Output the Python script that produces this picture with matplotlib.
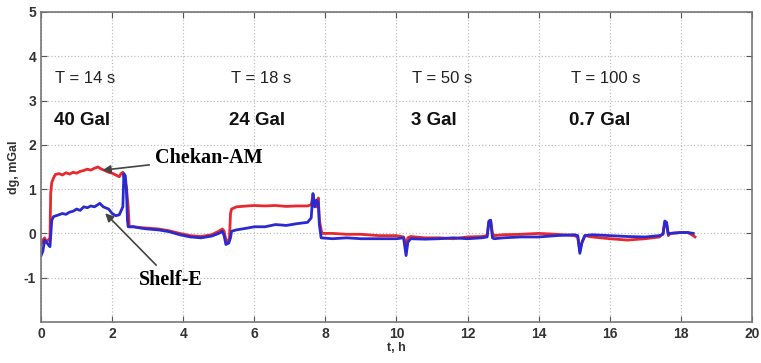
import matplotlib
matplotlib.use("Agg")
import matplotlib.pyplot as plt

plt.rcParams['font.family'] = ['Liberation Sans', 'DejaVu Sans']
plt.rcParams['axes.unicode_minus'] = False

# Chekan-AM (red) record
t_red = [0.0, 0.05, 0.1, 0.15, 0.2, 0.25, 0.27, 0.3, 0.35, 0.4, 0.5, 0.6, 0.7, 0.8, 0.9,
         1.0, 1.1, 1.2, 1.3, 1.4, 1.5, 1.6, 1.7, 1.8, 1.9, 2.0, 2.1, 2.2, 2.25, 2.3,
         2.35, 2.4, 2.45, 2.48, 2.6, 2.8, 3.0, 3.3, 3.6, 3.9, 4.2, 4.5, 4.8, 5.0, 5.1,
         5.15, 5.2, 5.25, 5.3, 5.33, 5.36, 5.5, 5.8, 6.0, 6.3, 6.6, 6.9, 7.2, 7.5, 7.6,
         7.65, 7.7, 7.75, 7.8, 7.83, 7.9, 8.2, 8.6, 9.0, 9.5, 10.0, 10.2, 10.27, 10.32,
         10.4, 10.8, 11.2, 11.6, 12.0, 12.4, 12.55, 12.6, 12.65, 12.7, 12.75, 13.0, 13.5,
         14.0, 14.5, 15.0, 15.1, 15.16, 15.2, 15.3, 15.5, 16.0, 16.5, 17.0, 17.4, 17.5,
         17.55, 17.6, 17.65, 17.7, 18.0, 18.2, 18.35, 18.4]
dg_red = [-0.25, -0.15, -0.1, -0.2, -0.15, -0.1, 0.9, 1.15, 1.25, 1.33, 1.35, 1.32, 1.37, 1.34, 1.38,
          1.36, 1.4, 1.42, 1.45, 1.43, 1.47, 1.5, 1.45, 1.42, 1.38, 1.36, 1.32, 1.28, 1.35, 1.38,
          1.2, 1.05, 0.6, 0.15, 0.15, 0.13, 0.12, 0.1, 0.06, 0.0, -0.05, -0.07, -0.03, 0.05, 0.1,
          0.05, -0.15, -0.2, -0.1, 0.45, 0.55, 0.6, 0.62, 0.63, 0.62, 0.63, 0.61, 0.62, 0.62, 0.65,
          0.85, 0.7, 0.6, 0.8, 0.3, 0.0, 0.0, -0.02, -0.02, -0.05, -0.05, -0.08, -0.25, -0.1,
          -0.07, -0.1, -0.1, -0.12, -0.08, -0.07, -0.05, 0.25, 0.28, 0.0, -0.05, -0.03, -0.02,
          0.0, -0.02, -0.05, -0.08, -0.4, -0.25, -0.05, -0.08, -0.12, -0.15, -0.12, -0.08, 0.0,
          0.25, 0.2, -0.05, 0.0, 0.02, 0.02, -0.05, -0.08]

# Shelf-E (blue) record
t_blue = [0.0, 0.05, 0.1, 0.15, 0.2, 0.25, 0.3, 0.35, 0.5, 0.6, 0.7, 0.8, 0.9, 1.0, 1.1,
          1.2, 1.3, 1.4, 1.5, 1.6, 1.65, 1.75, 1.9, 2.0, 2.1, 2.2, 2.3, 2.33, 2.37, 2.4,
          2.43, 2.45, 2.6, 2.8, 3.0, 3.3, 3.6, 3.9, 4.2, 4.5, 4.8, 5.0, 5.1, 5.15, 5.2,
          5.28, 5.33, 5.36, 5.5, 5.8, 6.0, 6.3, 6.6, 6.9, 7.2, 7.5, 7.6, 7.65, 7.7, 7.75,
          7.8, 7.83, 7.88, 8.2, 8.6, 9.0, 9.5, 10.0, 10.2, 10.27, 10.32, 10.4, 10.8, 11.2,
          11.6, 12.0, 12.4, 12.55, 12.6, 12.65, 12.7, 12.75, 13.0, 13.5, 14.0, 14.5, 15.0,
          15.1, 15.16, 15.22, 15.3, 15.5, 16.0, 16.5, 17.0, 17.4, 17.5, 17.55, 17.6, 17.65,
          17.7, 18.0, 18.2, 18.35]
dg_blue = [-0.5, -0.4, -0.15, -0.2, -0.25, -0.3, 0.3, 0.38, 0.42, 0.45, 0.43, 0.48, 0.5, 0.55, 0.52,
           0.6, 0.58, 0.62, 0.6, 0.65, 0.68, 0.6, 0.55, 0.45, 0.4, 0.42, 0.6, 1.35, 1.3, 1.0,
           0.3, 0.15, 0.15, 0.12, 0.1, 0.08, 0.04, -0.03, -0.08, -0.1, -0.06, 0.0, 0.05, -0.05, -0.25,
           -0.22, -0.1, 0.05, 0.08, 0.12, 0.15, 0.15, 0.2, 0.18, 0.22, 0.25, 0.35, 0.9, 0.6, 0.75,
           0.7, 0.2, -0.1, -0.12, -0.1, -0.12, -0.12, -0.12, -0.1, -0.5, -0.2, -0.12, -0.13, -0.12,
           -0.1, -0.12, -0.1, -0.08, 0.28, 0.3, -0.1, -0.12, -0.1, -0.08, -0.08, -0.05, -0.03,
           -0.05, -0.45, -0.2, -0.05, -0.03, -0.05, -0.07, -0.08, -0.05, -0.02, 0.28, 0.25, -0.02,
           0.0, 0.02, 0.02, 0.0]

period_labels = ["T = 14 s", "T = 18 s", "T = 50 s", "T = 100 s"]
amp_labels = ["40 Gal", "24 Gal", "3 Gal", "0.7 Gal"]
label_x = [0.4, 5.35, 10.45, 14.9]

fig = plt.figure(figsize=(7.61, 3.63), dpi=100)
ax = fig.add_axes([0.054, 0.113, 0.934, 0.854])

ax.plot(t_red, dg_red, color='#e8282c', lw=2.0)
ax.plot(t_blue, dg_blue, color='#2a2ad0', lw=2.0)

ax.set_xlim(0, 20)
ax.set_ylim(-2, 5)
ax.set_xticks(range(0, 21, 2))
ax.set_yticks([-1, 0, 1, 2, 3, 4, 5])
ax.grid(True, ls=':', color='#c0c0c0', lw=0.9)
ax.tick_params(direction='in', top=True, right=True, length=4, color='#555555',
               labelsize=10, labelcolor='#333333')
for lab in ax.get_xticklabels() + ax.get_yticklabels():
    lab.set_fontweight('bold')
for sp in ax.spines.values():
    sp.set_color('#777777')
    sp.set_linewidth(1.2)

ax.set_xlabel("t, h", fontsize=9, fontweight='bold', color='#333333', labelpad=1)
ax.set_ylabel("dg, mGal", fontsize=9, fontweight='bold', color='#333333', labelpad=3)

for x, p, a in zip(label_x, period_labels, amp_labels):
    ax.text(x, 3.5, p, fontsize=12, color='#222222', va='center')
    ax.text(x - 0.05, 2.55, a, fontsize=13.5, fontweight='bold', color='#111111', va='center')

arrow = dict(arrowstyle='-|>', color='#444444', lw=1.2, mutation_scale=12)
ax.annotate("Chekan-AM", xy=(1.65, 1.42), xytext=(3.2, 1.7), fontsize=14.5,
            fontweight='bold', family='Liberation Serif', va='center', arrowprops=arrow)
ax.annotate("Shelf-E", xy=(1.75, 0.5), xytext=(2.75, -1.05), fontsize=14.5,
            fontweight='bold', family='Liberation Serif', va='center', arrowprops=arrow)

fig.savefig("out.png", dpi=100)
